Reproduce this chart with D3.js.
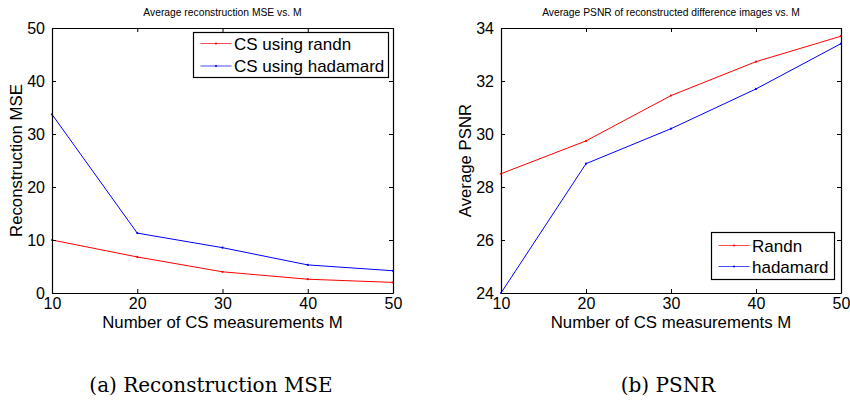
<!DOCTYPE html>
<html><head><meta charset="utf-8">
<script src="https://cdn.jsdelivr.net/npm/d3@7/dist/d3.min.js"></script>
<style>
body{margin:0;background:#fff;}
svg text{font-family:Arial,"Liberation Sans",Helvetica,sans-serif;fill:#000;}
</style></head>
<body><svg id="c" width="850" height="401"></svg>
<script>
const M = [10, 20, 30, 40, 50];
const mseRandn = [10.0, 6.8, 4.0, 2.6, 2.0];
const mseHadamard = [33.7, 11.3, 8.55, 5.3, 4.2];
const psnrRandn = [28.50, 29.74, 31.45, 32.73, 33.69];
const psnrHadamard = [24.0, 28.88, 30.20, 31.70, 33.41];
const mseTicks = [0, 10, 20, 30, 40, 50];
const psnrTicks = [24, 26, 28, 30, 32, 34];
const xTicks = [10, 20, 30, 40, 50];

const svg = d3.select("#c");
const TICK_FS = "16px", LAB_FS = "16.8px", LEG_FS = "17px";

function panel(cfg){
  const {x0, x1, y0, y1} = cfg;
  const x = d3.scaleLinear().domain([10,50]).range([x0,x1]);
  const y = d3.scaleLinear().domain(cfg.ydom).range([y1,y0]);
  const g = svg.append("g");
  g.append("text").attr("x",(x0+x1)/2).attr("y",16).attr("text-anchor","middle")
    .style("font-size","10.3px").text(cfg.title);
  const line = d3.line().x((d,i)=>x(M[i])).y(d=>y(d));
  cfg.series.forEach(s=>{
    g.append("path").datum(s.values).attr("d",line).attr("fill","none")
      .attr("stroke",s.color).attr("stroke-width",1);
    g.selectAll(null).data(s.values).enter().append("circle")
      .attr("cx",(d,i)=>x(M[i])).attr("cy",d=>y(d)).attr("r",1.1).attr("fill",s.color);
  });
  const tl = 4;
  const bottom = d3.axisBottom(x).tickValues(xTicks).tickSizeInner(-tl).tickSizeOuter(0).tickPadding(8);
  const top = d3.axisTop(x).tickValues(xTicks).tickSizeInner(-tl).tickSizeOuter(0).tickFormat("");
  const left = d3.axisLeft(y).tickValues(cfg.yticks).tickSizeInner(-tl).tickSizeOuter(0).tickPadding(7);
  const right = d3.axisRight(y).tickValues(cfg.yticks).tickSizeInner(-tl).tickSizeOuter(0).tickFormat("");
  const gb = g.append("g").attr("transform",`translate(0,${y1})`).call(bottom);
  const gt = g.append("g").attr("transform",`translate(0,${y0})`).call(top);
  const gl = g.append("g").attr("transform",`translate(${x0},0)`).call(left);
  const gr = g.append("g").attr("transform",`translate(${x1},0)`).call(right);
  [gb,gt,gl,gr].forEach(a=>{
    a.selectAll("path").attr("stroke","#000").attr("stroke-width",1.2);
    a.selectAll("line").attr("stroke","#000");
    a.selectAll("text").style("font-size",TICK_FS).style("font-family","Arial, 'Liberation Sans', sans-serif").attr("fill","#000");
  });
  gb.selectAll("text").attr("dy","0.5em");
  g.append("text").attr("x",(x0+x1)/2).attr("y",y1+35).attr("text-anchor","middle")
    .style("font-size",LAB_FS).text("Number of CS measurements M");
  g.append("text").attr("transform",`translate(${cfg.ylabX},${(y0+y1)/2}) rotate(-90)`)
    .attr("text-anchor","middle").attr("dy","0.35em").style("font-size",LAB_FS).text(cfg.ylabel);
  const L = cfg.legend;
  const lg = g.append("g");
  lg.append("rect").attr("x",L.x).attr("y",L.y).attr("width",L.w).attr("height",L.h)
    .attr("fill","#fff").attr("stroke","#000").attr("stroke-width",1.2);
  cfg.series.forEach((s,i)=>{
    const yy = L.y + L.r0 + i*L.dr;
    lg.append("line").attr("x1",L.x+7).attr("x2",L.x+38).attr("y1",yy).attr("y2",yy)
      .attr("stroke",s.color).attr("stroke-width",1).attr("stroke-opacity",0.7);
    lg.append("circle").attr("cx",L.x+22.5).attr("cy",yy).attr("r",1.1).attr("fill",s.color);
    lg.append("text").attr("x",L.x+40.5).attr("y",yy).attr("dy","0.36em").style("font-size",LEG_FS).text(s.name);
  });
  svg.append("text").attr("x",cfg.capX).attr("y",392).attr("text-anchor","middle")
    .style("font-family","'DejaVu Serif','Liberation Serif',serif").style("font-size","20px").text(cfg.caption);
}

panel({x0:52,x1:393,y0:28,y1:293,ydom:[0,50],yticks:mseTicks,
  title:"Average reconstruction MSE vs. M",ylabel:"Reconstruction MSE",ylabX:16,
  series:[{name:"CS using randn",color:"#ff0000",values:mseRandn},{name:"CS using hadamard",color:"#0000ff",values:mseHadamard}],
  legend:{x:193.5,y:32.5,w:195,h:45,r0:11,dr:22.5},caption:"(a) Reconstruction MSE",capX:211});
panel({x0:501,x1:841,y0:28,y1:293,ydom:[24,34],yticks:psnrTicks,
  title:"Average PSNR of reconstructed difference images vs. M",ylabel:"Average PSNR",ylabX:465,
  series:[{name:"Randn",color:"#ff0000",values:psnrRandn},{name:"hadamard",color:"#0000ff",values:psnrHadamard}],
  legend:{x:711.5,y:232.5,w:123,h:47,r0:13,dr:21},caption:"(b) PSNR",capX:668});
</script></body></html>
